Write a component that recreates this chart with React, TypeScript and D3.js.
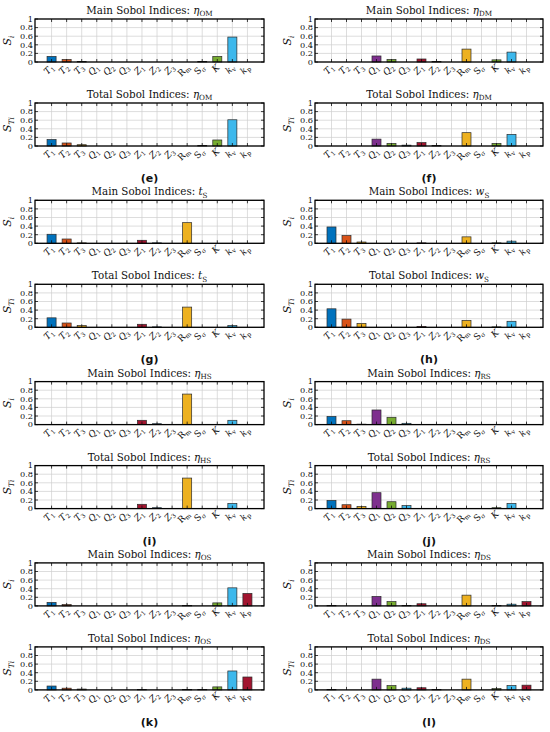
import * as d3 from 'd3'

// input parameters (x categories)
const paramBase = ['T', 'T', 'T', 'Q', 'Q', 'Q', 'Z', 'Z', 'Z', 'R', 'S', 'K', 'k', 'k']
const paramSub = ['1', '2', '3', '1', '2', '3', '1', '2', '3', 'm', 'σ', '', 'v', 'p']

// MATLAB default colour order, cycled over the 14 bars
const colorOrder = ['#0072BD', '#D95319', '#EDB120', '#7E2F8E', '#77AC30', '#3DB8EC', '#A2142F']

const yTicks = [0, 0.2, 0.4, 0.6, 0.8, 1]

// Sobol indices, order = paramBase
const omMain = [0.13, 0.06, 0.01, 0, 0, 0, 0, 0, 0, 0, 0.01, 0.13, 0.58, 0]
const omTotal = [0.15, 0.07, 0.03, 0, 0, 0, 0, 0, 0, 0, 0.01, 0.14, 0.61, 0]
const dmMain = [0, 0, 0, 0.14, 0.06, 0, 0.07, 0.01, 0, 0.30, 0, 0.05, 0.23, 0]
const dmTotal = [0, 0, 0, 0.16, 0.06, 0.02, 0.08, 0.01, 0, 0.31, 0, 0.06, 0.27, 0]
const tsMain = [0.21, 0.10, 0.01, 0, 0, 0, 0.07, 0.01, 0, 0.48, 0, 0, 0, 0]
const tsTotal = [0.22, 0.10, 0.04, 0, 0, 0, 0.07, 0.01, 0, 0.47, 0, 0, 0.04, 0]
const wsMain = [0.38, 0.18, 0.03, 0, 0, 0, 0.01, 0, 0, 0.15, 0, 0.01, 0.05, 0]
const wsTotal = [0.43, 0.19, 0.09, 0, 0, 0, 0.02, 0, 0, 0.16, 0, 0.01, 0.14, 0]
const hsMain = [0, 0, 0, 0, 0, 0, 0.10, 0.02, 0, 0.71, 0, 0, 0.10, 0]
const hsTotal = [0, 0, 0, 0, 0, 0, 0.10, 0.02, 0, 0.71, 0, 0, 0.12, 0]
const rsMain = [0.19, 0.09, 0.01, 0.34, 0.17, 0.03, 0, 0, 0, 0, 0, 0, 0, 0]
const rsTotal = [0.19, 0.09, 0.05, 0.37, 0.16, 0.07, 0, 0, 0, 0, 0, 0.02, 0.12, 0]
const osMain = [0.08, 0.03, 0, 0, 0, 0, 0, 0, 0, 0.01, 0, 0.07, 0.42, 0.29]
const osTotal = [0.09, 0.04, 0.02, 0, 0, 0, 0.01, 0, 0, 0.01, 0.01, 0.07, 0.44, 0.30]
const dsMain = [0.01, 0, 0, 0.22, 0.10, 0.01, 0.05, 0, 0, 0.25, 0, 0.01, 0.04, 0.10]
const dsTotal = [0.01, 0, 0, 0.25, 0.10, 0.04, 0.05, 0.01, 0, 0.25, 0, 0.03, 0.10, 0.11]

const outBase = ['η', 'η', 't', 'w', 'η', 'η', 'η', 'η']
const outSub = ['OM', 'DM', 'S', 'S', 'HS', 'RS', 'OS', 'DS']
const letters = ['e', 'f', 'g', 'h', 'i', 'j', 'k', 'l']
const mains = [omMain, dmMain, tsMain, wsMain, hsMain, rsMain, osMain, dsMain]
const totals = [omTotal, dmTotal, tsTotal, wsTotal, hsTotal, rsTotal, osTotal, dsTotal]

const W = 550
const H = 732
const serif = { fontFamily: "'DejaVu Serif', serif" }
const colX = [[35, 264], [315, 543]]
const rowTop = 19
const rowPitch = 181.3
const boxH = 43

function Axes({ x0, x1, y0, values, title, ylab }: {
  x0: number; x1: number; y0: number; values: number[]
  title: [string, string, string]; ylab: string
}) {
  const x = d3.scaleLinear().domain([-0.1, 15.1]).range([x0, x1])
  const y = d3.scaleLinear().domain([0, 1]).range([y0 + boxH, y0])
  const cats = d3.range(1, 15)
  const bw = x(0.6) - x(0)
  const tl = 3
  return (
    <g>
      {/* grid */}
      {cats.map(c => (
        <line key={'gx' + c} x1={x(c)} x2={x(c)} y1={y0} y2={y0 + boxH} stroke="#cfcfcf" strokeWidth={0.7} />
      ))}
      {yTicks.map(t => (
        <line key={'gy' + t} x1={x0} x2={x1} y1={y(t)} y2={y(t)} stroke="#cfcfcf" strokeWidth={0.7} />
      ))}
      {/* bars */}
      {values.map((v, i) => v > 0 ? (
        <rect key={'b' + i} x={x(i + 1) - bw / 2} y={y(v)} width={bw} height={y(0) - y(v)}
          fill={colorOrder[i % colorOrder.length]} stroke="#2a2a2a" strokeWidth={0.7} />
      ) : null)}
      {/* inward ticks */}
      {cats.map(c => (
        <g key={'tx' + c}>
          <line x1={x(c)} x2={x(c)} y1={y0 + boxH} y2={y0 + boxH - tl} stroke="#111" strokeWidth={0.8} />
          <line x1={x(c)} x2={x(c)} y1={y0} y2={y0 + tl} stroke="#111" strokeWidth={0.8} />
        </g>
      ))}
      {yTicks.map(t => (
        <g key={'ty' + t}>
          <line x1={x0} x2={x0 + tl} y1={y(t)} y2={y(t)} stroke="#111" strokeWidth={0.8} />
          <line x1={x1} x2={x1 - tl} y1={y(t)} y2={y(t)} stroke="#111" strokeWidth={0.8} />
          <text x={x0 - 2} y={y(t)} dy="0.35em" textAnchor="end" fontSize={8.2} fill="#111" style={serif}>{String(t)}</text>
        </g>
      ))}
      <rect x={x0} y={y0} width={x1 - x0} height={boxH} fill="none" stroke="#000" strokeWidth={1.3} />
      {/* x tick labels */}
      {cats.map((c, i) => (
        <text key={'lx' + c} transform={`translate(${x(c) + 3},${y0 + boxH + 6}) rotate(-45)`}
          textAnchor="end" fontSize={9} fill="#111" style={serif}>
          <tspan fontStyle={paramBase[i] === 'R' || paramBase[i] === 'S' ? 'normal' : 'italic'}>{paramBase[i]}</tspan>
          {paramSub[i] && <tspan fontSize={6.2} dy={2}>{paramSub[i]}</tspan>}
        </text>
      ))}
      {/* title */}
      <text x={(x0 + x1) / 2} y={y0 - 5} textAnchor="middle" fontSize={10.3} fill="#111" style={serif}>
        {title[0]}
        <tspan fontStyle="italic">{title[1]}</tspan>
        <tspan fontSize={7.2} dy={2.3}>{title[2]}</tspan>
      </text>
      {/* y label */}
      <text transform={`translate(${x0 - 24},${y0 + boxH / 2}) rotate(-90)`} textAnchor="middle" fontSize={11} fill="#111" style={serif}>
        <tspan fontStyle="italic">S</tspan>
        <tspan fontStyle="italic" fontSize={7.5} dy={2.5}>{ylab}</tspan>
      </text>
    </g>
  )
}

export default function App() {
  return (
    <svg width={W} height={H} viewBox={`0 0 ${W} ${H}`}
      style={{ display: 'block', position: 'absolute', left: 0, top: 0, background: '#fff' }}>
      <rect width={W} height={H} fill="#fff" />
      {letters.map((l, k) => {
        const col = k % 2
        const row = Math.floor(k / 2)
        const [x0, x1] = colX[col]
        const top = rowTop + row * rowPitch
        return (
          <g key={l}>
            <Axes x0={x0} x1={x1} y0={top} values={mains[k]}
              title={['Main Sobol Indices: ', outBase[k], outSub[k]]} ylab="i" />
            <Axes x0={x0} x1={x1} y0={top + 84} values={totals[k]}
              title={['Total Sobol Indices: ', outBase[k], outSub[k]]} ylab="Ti" />
            <text x={(x0 + x1) / 2} y={top + 163} textAnchor="middle" fontSize={11}
              fontWeight="bold" fill="#111" style={{ fontFamily: "'DejaVu Sans', sans-serif" }}>({l})</text>
          </g>
        )
      })}
    </svg>
  )
}
